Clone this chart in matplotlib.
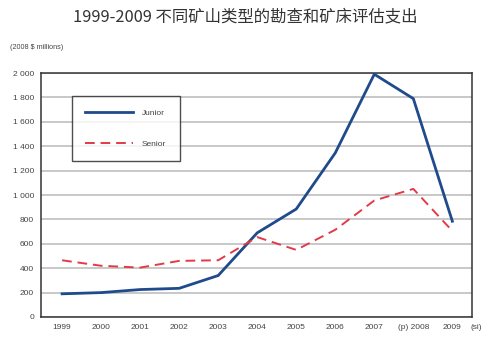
import matplotlib
matplotlib.use("Agg")
import matplotlib.pyplot as plt
from matplotlib.ticker import FuncFormatter

# exploration and deposit appraisal spending, 2008 $ millions
years = [1999, 2000, 2001, 2002, 2003, 2004, 2005, 2006, 2007, 2008, 2009]
year_labels = ["1999", "2000", "2001", "2002", "2003", "2004", "2005",
               "2006", "2007", "(p) 2008", "2009"]
junior = [190, 200, 225, 235, 340, 690, 885, 1345, 1990, 1790, 785]
senior = [465, 420, 405, 460, 465, 655, 550, 715, 955, 1050, 705]

plt.rcParams['font.family'] = ['Liberation Sans', 'DejaVu Sans']

fig = plt.figure(figsize=(4.9, 3.42), dpi=100, facecolor='white')
ax = fig.add_axes([0.0837, 0.0731, 0.8793, 0.7134])

ax.plot(years, junior, color='#1f4a8c', lw=2.0, label='Junior', zorder=3)
ax.plot(years, senior, color='#e23a48', lw=1.4, ls=(0, (5, 3)),
        label='Senior', zorder=3)

ax.set_xlim(1998.46, 2009.5)
ax.set_ylim(0, 2000)
ax.set_yticks(range(0, 2001, 200))
ax.yaxis.set_major_formatter(FuncFormatter(lambda v, p: f"{int(v):,}".replace(",", " ")))
ax.set_xticks(years)
ax.set_xticklabels(year_labels)
ax.tick_params(length=0, labelsize=6, colors='#444444', pad=5)
ax.grid(axis='y', color='#c4c4c4', lw=1.3, zorder=0)
for s in ax.spines.values():
    s.set_color('#333333')
    s.set_linewidth(1.1)

# suffix for the spending-intentions year, on the tick label baseline
ax.annotate("(si)", xy=(2009, 0), xycoords=('data', 'axes fraction'),
            xytext=(13, -5), textcoords='offset points',
            fontsize=6, color='#444444', ha='left', va='top')

leg = ax.legend(loc='upper left', bbox_to_anchor=(0.072, 0.905), frameon=True,
                fancybox=False, edgecolor='#222222', fontsize=6,
                handlelength=5.7, handletextpad=1.1, labelspacing=2.7,
                borderpad=1.6, borderaxespad=0)
leg.get_frame().set_linewidth(1.0)
for t in leg.get_texts():
    t.set_color('#444444')

fig.text(0.5, 0.952, "1999-2009 不同矿山类型的勘查和矿床评估支出", ha='center', va='center',
         fontsize=11.8, color='#333333', family=['Noto Sans CJK SC', 'DejaVu Sans'])
fig.text(0.02, 0.862, "(2008 $ millions)", fontsize=5.2, color='#444444', va='center')

fig.savefig('out.png', dpi=100, facecolor='white')
